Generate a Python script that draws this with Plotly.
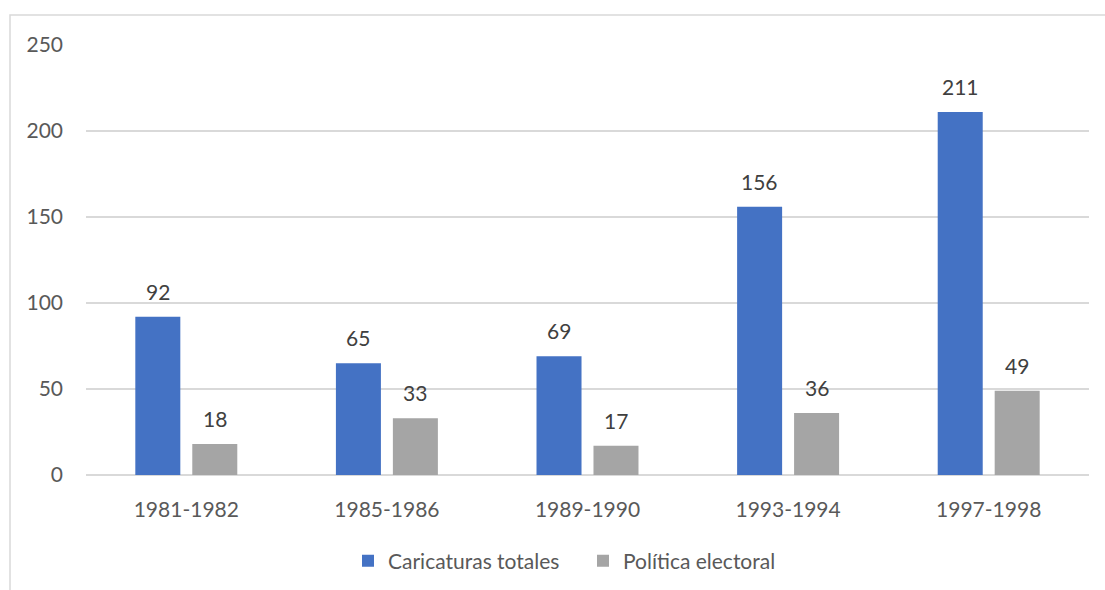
import plotly.graph_objects as go

categories = ["1981-1982", "1985-1986", "1989-1990", "1993-1994", "1997-1998"]
caricaturas_totales = [92, 65, 69, 156, 211]
politica_electoral = [18, 33, 17, 36, 49]
y_ticks = [0, 50, 100, 150, 200, 250]

FONT = "Lato"
FS = 21
W, H = 1105, 590
L, R, T, B = 86, 16, 45, 115
pw, ph = W - L - R, H - T - B
slot = pw / len(categories) * (1 - 0.432) / 2  # px distance between grouped bar centres

fig = go.Figure()
fig.add_trace(go.Bar(
    x=categories, y=caricaturas_totales, name="Caricaturas totales",
    marker=dict(color="#4472C4", line=dict(width=0)),
))
fig.add_trace(go.Bar(
    x=categories, y=politica_electoral, name="Política electoral",
    marker=dict(color="#A5A5A5", line=dict(width=0)),
))

annotations = []
for series, shift in ((caricaturas_totales, -slot / 2), (politica_electoral, slot / 2)):
    for c, v in zip(categories, series):
        annotations.append(dict(x=c, y=v, xref="x", yref="y", text=str(v), showarrow=False,
                                xshift=shift, yshift=11, yanchor="bottom", xanchor="center",
                                font=dict(family=FONT, size=FS, color="#404040")))

fig.update_layout(
    width=W, height=H,
    margin=dict(l=L, r=R, t=T, b=B, autoexpand=False),
    paper_bgcolor="white", plot_bgcolor="white",
    barmode="group", bargap=0.432, bargroupgap=0.21,
    font=dict(family=FONT, size=FS, color="#595959"),
    showlegend=True,
    legend=dict(orientation="h", x=(583 - L) / pw, xanchor="center",
                y=(T + ph - 561) / ph, yanchor="middle",
                font=dict(family=FONT, size=FS, color="#595959"),
                itemwidth=30, traceorder="normal", entrywidth=190, entrywidthmode="pixels"),
    xaxis=dict(showgrid=False, showline=False, ticks="", ticklabelstandoff=20,
               tickfont=dict(family=FONT, size=FS, color="#595959")),
    yaxis=dict(range=[0, 250], tickvals=y_ticks, showgrid=True, gridcolor="#D9D9D9",
               gridwidth=1.5, zeroline=True, zerolinecolor="#D9D9D9", zerolinewidth=1.5,
               showline=False, ticks="", ticklabelstandoff=22,
               tickfont=dict(family=FONT, size=FS, color="#595959")),
    annotations=annotations,
    shapes=[dict(type="rect", xref="paper", yref="paper",
                 x0=(10 - L) / pw, x1=(W + 20 - L) / pw,
                 y0=(T + ph - (H + 20)) / ph, y1=(T + ph - 15) / ph,
                 line=dict(color="#D9D9D9", width=1.5), layer="below")],
)

fig.write_html("out.html")
